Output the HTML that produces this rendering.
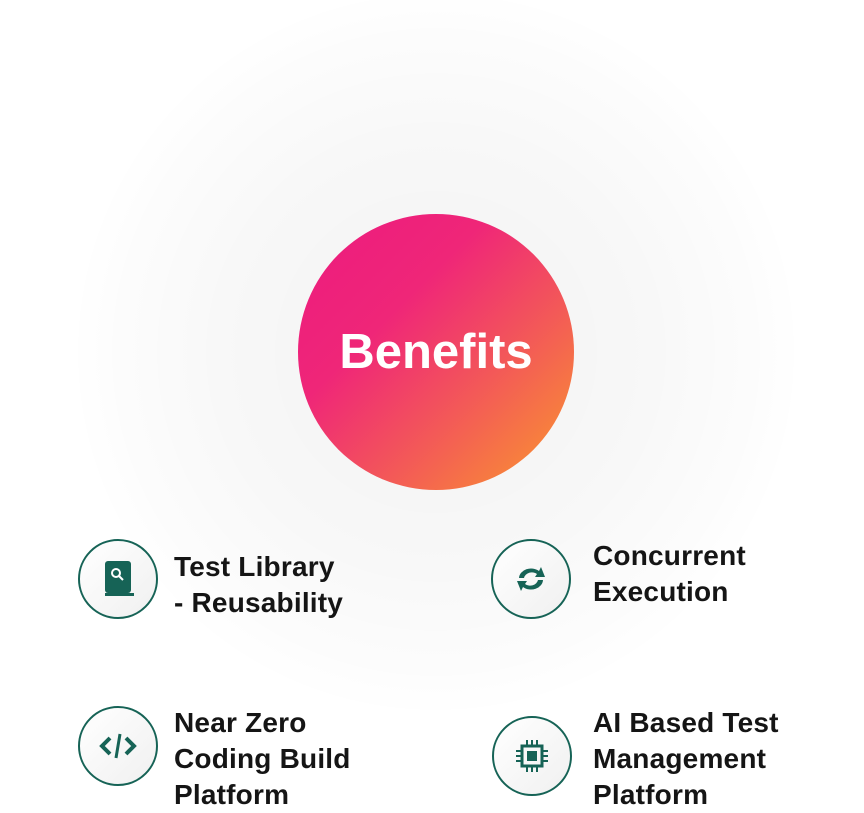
<!DOCTYPE html>
<html><head><style>
body{margin:0;width:864px;height:806px;background:#fff;overflow:hidden;position:relative;font-family:"Liberation Sans",sans-serif}
.glow{position:absolute;left:76px;top:-8px;width:720px;height:720px;border-radius:50%;background:radial-gradient(circle,rgba(0,0,0,0.045) 0%,rgba(0,0,0,0.03) 38%,rgba(0,0,0,0.01) 62%,rgba(0,0,0,0) 72%)}
.main{position:absolute;left:298px;top:214px;width:276px;height:276px;border-radius:50%;background:linear-gradient(135deg,#ec1a7f 0%,#ef2678 35%,#f35a57 65%,#fa9a2c 100%);color:#fff;font-weight:bold;font-size:49px;display:flex;align-items:center;justify-content:center}
.ic{position:absolute;width:76px;height:76px;border:2px solid #166356;border-radius:50%;background:linear-gradient(135deg,#fff,#f0f0f0);display:flex;align-items:center;justify-content:center}
.t{position:absolute;font-weight:bold;font-size:28px;line-height:36px;color:#151515;letter-spacing:0.2px}
</style></head><body>
<div class="glow"></div>
<div class="main">Benefits</div>
<div class="ic" style="left:78px;top:539px"><svg width="34" height="40" viewBox="0 0 34 40"><rect x="4" y="2" width="26" height="32" rx="3" fill="#166356"/><rect x="4" y="34" width="29" height="3" fill="#166356"/><circle cx="15" cy="14" r="4" fill="none" stroke="#fff" stroke-width="2"/><line x1="18" y1="17" x2="22" y2="21" stroke="#fff" stroke-width="2"/></svg></div>
<div class="t" style="left:174px;top:549px">Test Library<br>- Reusability</div>
<div class="ic" style="left:491px;top:539px"><svg width="32" height="32" viewBox="0 0 32 32"><path d="M4 15 A12 10 0 0 1 24 8 L26 4 L30 14 L20 14 L22 11 A8 7 0 0 0 9 15 Z" fill="#166356"/><path d="M28 17 A12 10 0 0 1 8 24 L6 28 L2 18 L12 18 L10 21 A8 7 0 0 0 23 17 Z" fill="#166356"/></svg></div>
<div class="t" style="left:593px;top:538px">Concurrent<br>Execution</div>
<div class="ic" style="left:78px;top:706px"><svg width="40" height="32" viewBox="0 0 40 32"><path d="M12 8 L4 16 L12 24" fill="none" stroke="#166356" stroke-width="4"/><path d="M28 8 L36 16 L28 24" fill="none" stroke="#166356" stroke-width="4"/><line x1="22" y1="4" x2="18" y2="28" stroke="#166356" stroke-width="3"/></svg></div>
<div class="t" style="left:174px;top:705px">Near Zero<br>Coding Build<br>Platform</div>
<div class="ic" style="left:492px;top:716px"><svg width="34" height="34" viewBox="0 0 34 34"><rect x="7" y="7" width="20" height="20" fill="none" stroke="#166356" stroke-width="3"/><rect x="12" y="12" width="10" height="10" fill="#166356"/><g stroke="#166356" stroke-width="2"><line x1="12" y1="1" x2="12" y2="7"/><line x1="17" y1="1" x2="17" y2="7"/><line x1="22" y1="1" x2="22" y2="7"/><line x1="12" y1="27" x2="12" y2="33"/><line x1="17" y1="27" x2="17" y2="33"/><line x1="22" y1="27" x2="22" y2="33"/><line x1="1" y1="12" x2="7" y2="12"/><line x1="1" y1="17" x2="7" y2="17"/><line x1="1" y1="22" x2="7" y2="22"/><line x1="27" y1="12" x2="33" y2="12"/><line x1="27" y1="17" x2="33" y2="17"/><line x1="27" y1="22" x2="33" y2="22"/></g></svg></div>
<div class="t" style="left:593px;top:705px">AI Based Test<br>Management<br>Platform</div>
</body></html>
